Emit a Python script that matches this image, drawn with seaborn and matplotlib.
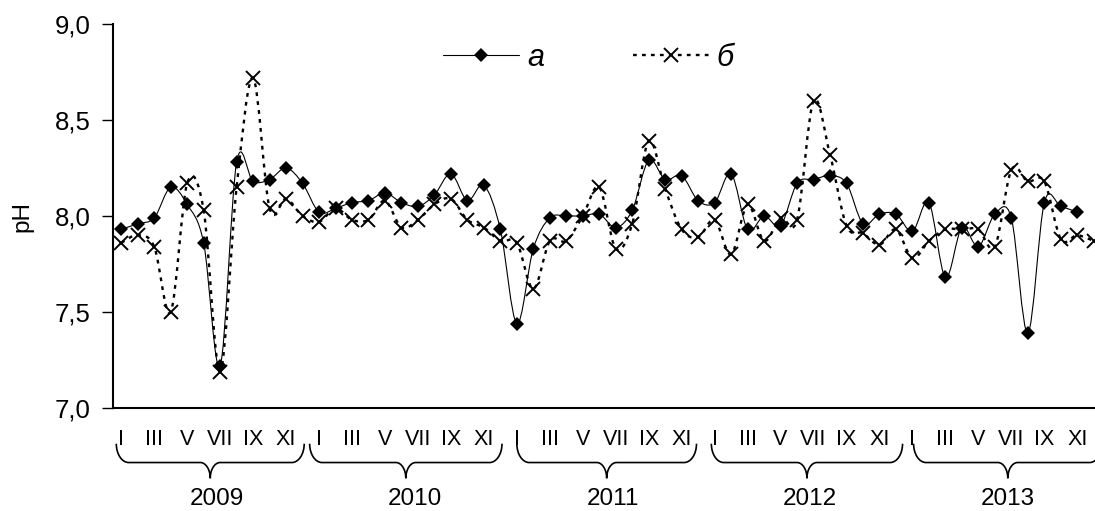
import numpy as np
import pandas as pd
import matplotlib
matplotlib.use("Agg")
import matplotlib.pyplot as plt
import matplotlib.transforms as mtransforms
from matplotlib.path import Path
from matplotlib.patches import PathPatch
from matplotlib.lines import Line2D
import seaborn as sns

# ---------------- data ----------------
years = ["2009", "2010", "2011", "2012", "2013"]
month_labels = ["I", "", "III", "", "V", "", "VII", "", "IX", "", "XI", ""]
series_names = ["а", "б"]

ph_a = [7.93, 7.96, 7.99, 8.15, 8.06, 7.86, 7.22, 8.28, 8.18, 8.19, 8.25, 8.17,
        8.02, 8.04, 8.07, 8.08, 8.12, 8.07, 8.05, 8.11, 8.22, 8.08, 8.16, 7.93,
        7.44, 7.83, 7.99, 8.00, 8.00, 8.01, 7.94, 8.03, 8.29, 8.19, 8.21, 8.08,
        8.07, 8.22, 7.93, 8.00, 7.95, 8.17, 8.19, 8.21, 8.17, 7.96, 8.01, 8.01,
        7.92, 8.07, 7.68, 7.94, 7.84, 8.01, 7.99, 7.39, 8.07, 8.05, 8.02, np.nan]

ph_b = [7.86, 7.90, 7.84, 7.50, 8.17, 8.03, 7.19, 8.15, 8.72, 8.04, 8.09, 8.00,
        7.97, 8.04, 7.98, 7.98, 8.08, 7.94, 7.98, 8.06, 8.09, 7.98, 7.94, 7.87,
        7.86, 7.62, 7.87, 7.87, 8.00, 8.15, 7.83, 7.96, 8.39, 8.14, 7.93, 7.89,
        7.98, 7.80, 8.06, 7.87, 7.99, 7.98, 8.60, 8.32, 7.95, 7.91, 7.85, 7.93,
        7.78, 7.87, 7.93, 7.93, 7.93, 7.84, 8.24, 8.18, 8.18, 7.88, 7.90, 7.87]

y_ticks = [7.0, 7.5, 8.0, 8.5, 9.0]
y_tick_labels = ["7,0", "7,5", "8,0", "8,5", "9,0"]
y_label = "pH"

# ---------------- style ----------------
sns.set_style("white")
plt.rcParams["font.family"] = ["Liberation Sans", "DejaVu Sans"]
for key in ["text.color", "axes.labelcolor", "xtick.color", "ytick.color",
            "axes.edgecolor"]:
    plt.rcParams[key] = "black"

W, H = 1095, 511
fig = plt.figure(figsize=(W / 100, H / 100), dpi=100)
ax = fig.add_axes([113 / W, 103 / H, 989 / W, 384 / H])

n = len(ph_a)
df = pd.DataFrame({"idx": np.arange(n), "a": ph_a, "b": ph_b})


def smooth_path(xs, ys):
    pts = [(x, y) for x, y in zip(xs, ys) if not np.isnan(y)]
    verts = [pts[0]]
    codes = [Path.MOVETO]
    m = len(pts)
    for k in range(m - 1):
        p0 = pts[k - 1] if k > 0 else pts[k]
        p1 = pts[k]
        p2 = pts[k + 1]
        p3 = pts[k + 2] if k + 2 < m else pts[k + 1]
        c1 = (p1[0] + (p2[0] - p0[0]) / 6, p1[1] + (p2[1] - p0[1]) / 6)
        c2 = (p2[0] - (p3[0] - p1[0]) / 6, p2[1] - (p3[1] - p1[1]) / 6)
        verts += [c1, c2, p2]
        codes += [Path.CURVE4] * 3
    return Path(verts, codes)


dot_style = (0, (1.6, 2.2))

# series a: thin solid smoothed line + diamonds
ax.add_patch(PathPatch(smooth_path(df["idx"], df["a"]), fill=False,
                       edgecolor="black", lw=0.8, transform=ax.transData, zorder=2))
sns.lineplot(data=df, x="idx", y="a", ax=ax, color="black", linestyle="",
             marker="D", markersize=7.6, markeredgewidth=0,
             markeredgecolor="black", markerfacecolor="black", zorder=3)

# series b: dotted smoothed line + crosses
ax.add_patch(PathPatch(smooth_path(df["idx"], df["b"]), fill=False,
                       edgecolor="black", lw=1.7, linestyle=dot_style,
                       transform=ax.transData, zorder=4))
sns.lineplot(data=df, x="idx", y="b", ax=ax, color="black", linestyle="",
             marker="x", markersize=10, markeredgewidth=1.4,
             markeredgecolor="black", zorder=5)

# ---------------- axes ----------------
ax.set_xlim(-0.5, n - 0.5)
ax.set_ylim(7.0, 9.0)
ax.set_xticks(np.arange(-0.5, n, 1.0))
ax.set_xticklabels([])
ax.set_yticks(y_ticks)
ax.set_yticklabels(y_tick_labels)
ax.tick_params(axis="x", length=3.8, width=1.0, direction="out", color="black")
ax.tick_params(axis="y", length=8, width=1.0, direction="out", pad=8,
               labelsize=18.5, color="black", labelcolor="black", left=True)
ax.set_xlabel("")
ax.set_ylabel("")
for s in ["top", "right"]:
    ax.spines[s].set_visible(False)
for s in ["left", "bottom"]:
    ax.spines[s].set_linewidth(1.5)
    ax.spines[s].set_color("black")

fig.text(22 / W, 1 - 216 / H, y_label, rotation=90, ha="center", va="center",
         fontsize=17.5, color="black")

# month labels, braces, year labels
blend = mtransforms.blended_transform_factory(ax.transData, ax.transAxes)
for k, yr in enumerate(years):
    for m_i, lbl in enumerate(month_labels):
        if lbl:
            ax.text(12 * k + m_i, -0.082, lbl, transform=blend, ha="center",
                    va="center", fontsize=15.5, color="black", clip_on=False)
    ax.text(12 * k + 5.8, -0.237, yr, transform=blend, ha="center",
            va="center", fontsize=17.5, color="black", clip_on=False)

brace_starts = [-0.3, 11.43, 24.0, 35.8, 48.07]
brace_ends = [11.1, 23.1, 34.9, 47.4, 59.5]
yt, ym, yb = -0.093, -0.142, -0.183
kk = 0.552
for x0, x1 in zip(brace_starts, brace_ends):
    r, rt = 0.75, 0.6
    xm = (x0 + x1) / 2
    verts = [(x0, yt),
             (x0, yt + kk * (ym - yt)), (x0 + r * (1 - kk), ym), (x0 + r, ym),
             (xm - rt, ym),
             (xm - rt + kk * rt, ym), (xm, ym + (1 - kk) * (yb - ym)), (xm, yb),
             (xm, ym + (1 - kk) * (yb - ym)), (xm + rt - kk * rt, ym), (xm + rt, ym),
             (x1 - r, ym),
             (x1 - r * (1 - kk), ym), (x1, yt + kk * (ym - yt)), (x1, yt)]
    codes = ([Path.MOVETO] + [Path.CURVE4] * 3 + [Path.LINETO] +
             [Path.CURVE4] * 6 + [Path.LINETO] + [Path.CURVE4] * 3)
    ax.add_patch(PathPatch(Path(verts, codes), fill=False, edgecolor="black",
                           lw=1.2, transform=blend, clip_on=False))

# legend
handles = [Line2D([], [], color="black", lw=0.8, marker="D", markersize=7.6,
                  markeredgewidth=0),
           Line2D([], [], color="black", lw=1.7, linestyle=dot_style, marker="x",
                  markersize=10, markeredgewidth=1.4)]
fig.legend(handles, series_names, loc="center left",
           bbox_to_anchor=(443 / W, 1 - 58 / H), ncol=2, frameon=False,
           prop={"style": "italic", "size": 22}, labelcolor="black",
           handlelength=2.5, handletextpad=0.25, columnspacing=2.9,
           borderpad=0, borderaxespad=0, numpoints=1)

fig.savefig("out.png", dpi=100)
